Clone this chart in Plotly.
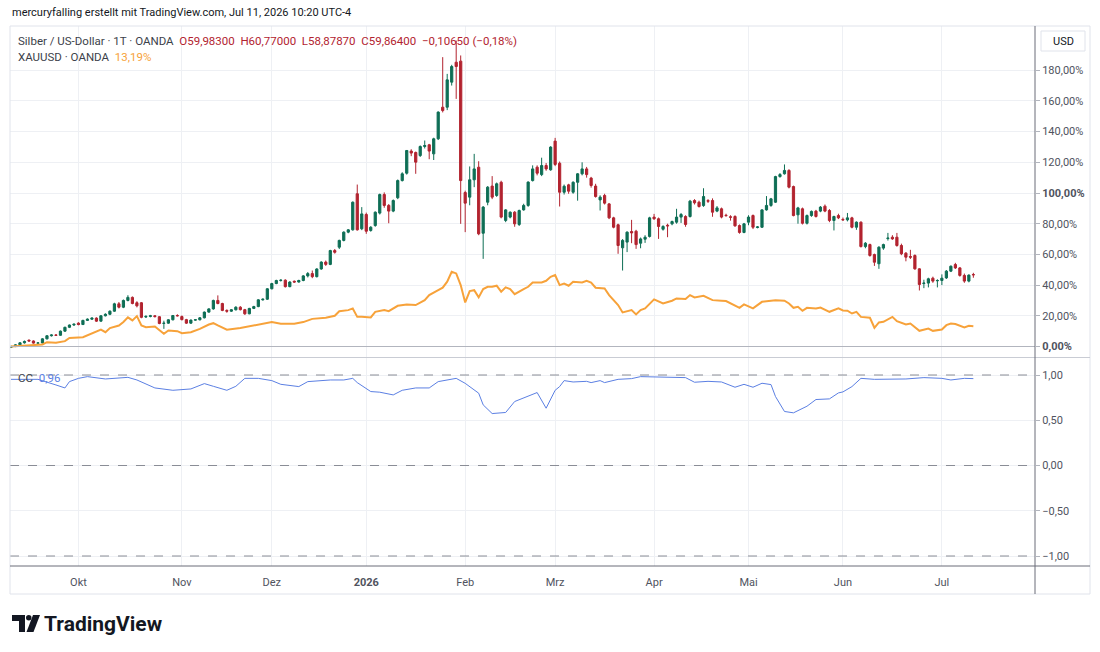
import plotly.graph_objects as go

# ---------------- data (percent scale) ----------------
month_labels = ["Okt", "Nov", "Dez", "<b>2026</b>", "Feb", "Mrz", "Apr", "Mai", "Jun", "Jul"]
month_start_bar = [15, 38, 58, 79, 101, 121, 143, 164, 185, 207]

silver_open = [
    -0.6, 0.0, 1.1, 2.4, 4.1, 3.6, 2.2, 2.3, 5.0, 7.0,
    7.5, 7.3, 10.0, 12.5, 14.0, 15.2, 14.3, 17.0, 17.8, 18.5,
    16.5, 20.0, 21.0, 23.0, 27.8, 25.6, 30.0, 32.0, 28.5, 28.5,
    19.2, 19.6, 20.0, 19.4, 15.0, 15.2, 17.4, 20.2, 19.5, 17.5,
    15.2, 17.2, 17.4, 18.7, 22.4, 24.5, 30.0, 28.0, 23.5, 23.0,
    23.9, 25.6, 24.0, 21.3, 24.8, 26.0, 30.4, 30.8, 37.6, 41.0,
    43.0, 43.2, 39.0, 42.5, 42.0, 43.0, 46.0, 47.5, 45.5, 50.5,
    55.0, 53.5, 62.5, 64.7, 69.1, 74.5, 76.0, 99.5, 76.7, 86.0,
    75.6, 78.8, 86.9, 99.0, 91.9, 88.2, 96.9, 108.1, 112.9, 127.3,
    126.4, 124.4, 130.3, 131.4, 125.5, 135.3, 155.9, 155.9, 172.2, 185.2,
    185.9, 100.3, 97.3, 108.6, 116.8, 73.8, 94.0, 104.5, 98.4, 107.0,
    82.1, 84.3, 87.5, 79.5, 89.0, 91.9, 108.1, 116.8, 112.0, 117.9,
    115.1, 133.8, 119.4, 100.5, 105.3, 100.5, 107.0, 112.5, 115.7, 109.7,
    104.5, 95.5, 98.4, 92.9, 83.8, 79.3, 64.3, 68.0, 74.9, 75.1,
    67.3, 69.9, 71.7, 84.3, 83.2, 76.4, 79.0, 79.9, 81.0, 84.3,
    84.7, 84.7, 95.1, 94.0, 91.8, 95.0, 95.1, 88.2, 89.7, 85.5,
    84.5, 84.7, 78.8, 74.3, 81.0, 85.3, 77.5, 77.7, 89.0, 91.9,
    94.0, 110.7, 112.5, 114.7, 104.2, 85.8, 89.7, 80.3, 85.3, 88.2,
    88.2, 91.4, 88.6, 82.1, 85.3, 82.8, 82.5, 83.8, 77.7, 81.0,
    65.1, 66.4, 59.9, 53.9, 64.1, 70.3, 71.2, 71.2, 65.8, 60.8,
    58.6, 59.3, 50.6, 41.0, 41.3, 44.5, 42.8, 43.0, 44.7, 49.1,
    53.4, 51.2, 46.3, 42.6, 46.9,
]
silver_high = [
    0.6, 1.5, 2.9, 3.9, 4.6, 4.0, 2.8, 5.4, 7.4, 7.9,
    8.0, 10.4, 12.9, 14.3, 15.0, 15.8, 17.4, 18.3, 18.9, 19.0,
    20.4, 21.6, 23.5, 28.5, 29.0, 30.6, 33.4, 32.6, 29.5, 29.0,
    20.3, 20.6, 20.5, 19.8, 16.8, 17.8, 20.5, 21.0, 20.2, 18.0,
    17.6, 17.9, 19.2, 22.8, 24.9, 30.5, 33.3, 28.5, 24.2, 24.4,
    26.2, 26.3, 24.5, 25.2, 26.5, 30.8, 31.3, 38.0, 41.5, 43.5,
    43.8, 43.8, 42.5, 43.0, 43.5, 46.5, 48.5, 49.5, 51.0, 55.5,
    56.0, 63.0, 63.5, 69.6, 75.0, 76.5, 94.5, 105.5, 90.8, 87.2,
    78.4, 88.0, 99.6, 100.4, 92.8, 95.8, 108.8, 113.5, 128.0, 128.5,
    127.0, 131.0, 134.2, 132.0, 136.0, 153.2, 188.5, 177.6, 183.5, 199.3,
    189.6, 101.5, 117.3, 125.5, 120.7, 91.5, 104.5, 111.0, 106.8, 108.0,
    89.5, 88.0, 88.2, 89.2, 93.0, 107.6, 118.0, 118.0, 123.0, 119.5,
    130.5, 135.9, 120.5, 105.5, 106.0, 107.6, 113.0, 120.0, 117.0, 110.5,
    106.0, 98.5, 99.5, 93.5, 84.5, 80.0, 70.0, 75.0, 82.5, 76.0,
    71.0, 72.5, 84.5, 86.4, 84.0, 79.0, 80.0, 82.0, 89.7, 87.0,
    85.5, 95.5, 96.0, 95.0, 103.1, 96.0, 96.5, 91.5, 90.5, 86.5,
    85.5, 85.5, 79.5, 80.5, 85.5, 86.0, 78.5, 89.5, 98.0, 96.8,
    111.2, 113.0, 118.6, 115.5, 104.8, 91.0, 90.5, 86.0, 88.6, 89.0,
    91.5, 92.5, 89.5, 85.2, 86.5, 84.0, 87.0, 84.5, 81.5, 81.5,
    68.0, 67.0, 60.5, 65.3, 67.0, 74.0, 72.5, 74.0, 67.0, 61.5,
    63.0, 60.0, 51.0, 43.5, 44.8, 45.5, 43.8, 47.0, 49.8, 52.8,
    54.5, 51.8, 47.5, 47.0, 48.0,
]
silver_low = [
    -1.0, -0.4, 0.6, 1.9, 3.2, 1.9, 1.6, 2.0, 4.6, 6.5,
    6.9, 7.0, 9.6, 12.0, 13.4, 13.8, 14.0, 16.6, 17.3, 16.0,
    16.2, 19.6, 20.4, 22.6, 24.8, 25.0, 29.4, 27.5, 25.5, 18.4,
    18.6, 19.0, 18.9, 14.5, 11.5, 14.8, 17.0, 19.6, 17.0, 14.7,
    14.8, 16.8, 17.0, 18.3, 22.0, 24.0, 27.5, 23.0, 22.0, 22.5,
    23.5, 23.5, 20.6, 21.0, 24.4, 25.6, 29.9, 30.4, 37.2, 40.6,
    42.3, 38.4, 38.6, 41.5, 41.6, 42.5, 45.0, 44.5, 45.0, 50.0,
    52.5, 53.0, 60.5, 63.5, 68.5, 73.8, 75.5, 75.5, 75.8, 73.4,
    74.8, 78.0, 86.0, 90.4, 80.3, 87.5, 96.0, 107.5, 112.0, 124.0,
    112.5, 123.5, 129.0, 122.0, 121.5, 134.5, 152.5, 154.0, 170.0, 161.3,
    79.9, 74.5, 92.0, 103.8, 72.5, 57.1, 92.0, 96.0, 97.5, 83.5,
    81.0, 83.5, 78.0, 78.5, 88.5, 91.0, 107.5, 111.5, 111.0, 114.5,
    114.5, 117.5, 91.2, 99.0, 99.5, 99.5, 95.0, 111.5, 110.0, 103.5,
    97.0, 88.6, 92.5, 83.0, 77.0, 60.4, 49.5, 61.5, 67.3, 63.6,
    64.0, 67.5, 71.0, 82.5, 70.1, 75.5, 71.2, 79.0, 80.0, 80.5,
    78.0, 84.0, 92.5, 90.5, 91.0, 93.5, 84.5, 87.5, 83.5, 84.5,
    82.0, 78.0, 73.5, 73.8, 79.0, 76.5, 77.0, 77.2, 88.5, 91.0,
    93.5, 110.0, 112.0, 103.0, 84.8, 80.0, 79.5, 79.5, 84.5, 84.0,
    87.5, 87.5, 81.0, 75.6, 83.0, 82.0, 81.5, 77.0, 76.0, 64.5,
    64.0, 58.5, 52.5, 50.6, 63.0, 69.0, 69.5, 65.0, 59.5, 55.5,
    57.0, 50.0, 36.5, 38.0, 38.5, 41.5, 38.5, 40.0, 44.0, 48.5,
    50.5, 45.5, 41.5, 41.8, 44.8,
]
silver_close = [
    0.0, 1.1, 2.4, 3.3, 3.6, 2.2, 2.3, 5.0, 7.0, 7.5,
    7.3, 10.0, 12.5, 14.0, 14.5, 14.3, 17.0, 17.8, 18.5, 16.5,
    20.0, 21.0, 23.0, 27.8, 25.6, 30.0, 32.0, 28.0, 26.5, 19.0,
    19.6, 20.0, 19.5, 15.0, 15.2, 17.4, 20.2, 20.0, 17.5, 15.2,
    17.2, 17.4, 18.7, 22.4, 24.5, 30.0, 28.0, 23.5, 23.0, 23.9,
    25.6, 24.0, 21.3, 24.8, 26.0, 30.4, 30.8, 37.6, 41.0, 43.0,
    43.2, 39.0, 42.0, 42.0, 43.0, 46.0, 47.5, 45.5, 50.5, 55.0,
    53.5, 62.5, 61.4, 69.1, 74.5, 76.0, 94.0, 76.0, 86.4, 75.1,
    77.7, 87.5, 99.0, 91.9, 88.2, 95.1, 108.1, 112.5, 127.7, 126.0,
    120.1, 130.3, 130.9, 127.3, 135.3, 152.7, 153.7, 173.7, 182.4, 182.4,
    108.1, 93.4, 108.6, 115.7, 73.4, 90.8, 103.8, 97.3, 106.0, 84.3,
    89.0, 87.5, 79.9, 88.6, 91.9, 107.1, 115.7, 112.9, 117.9, 115.7,
    129.9, 118.6, 100.5, 104.4, 101.2, 107.0, 112.5, 115.7, 112.0, 104.9,
    97.7, 97.3, 93.4, 83.8, 77.7, 65.8, 69.1, 74.5, 74.0, 66.4,
    70.1, 71.2, 83.8, 83.2, 78.2, 78.2, 78.6, 81.4, 84.3, 86.0,
    79.5, 94.7, 93.6, 91.2, 97.7, 94.7, 87.5, 90.3, 84.3, 85.3,
    84.2, 78.6, 74.3, 79.9, 84.3, 77.7, 77.9, 89.0, 91.9, 96.2,
    110.7, 112.0, 114.7, 103.8, 85.3, 90.3, 80.3, 85.3, 88.0, 84.7,
    90.8, 88.2, 82.1, 84.7, 83.8, 82.5, 83.8, 77.7, 81.0, 65.1,
    67.3, 59.3, 54.9, 64.7, 66.4, 70.6, 70.1, 65.8, 60.4, 58.2,
    58.2, 50.6, 40.4, 41.3, 44.1, 42.6, 43.0, 44.5, 49.1, 52.3,
    51.2, 46.3, 42.6, 46.5, 46.7,
]

gold_bar = [
    0, 5, 7, 8, 10, 12, 13, 16, 18, 20, 21, 22, 24, 25, 26, 27, 28, 29, 30, 32,
    34, 35, 37, 38, 40, 42, 44, 45, 46, 48, 51, 54, 56, 58, 60, 63, 65, 67, 70, 72,
    73, 75, 76, 77, 78, 80, 81, 83, 84, 86, 88, 90, 92, 93, 95, 96, 97, 98, 99, 100,
    101, 102, 103, 104, 105, 106, 107, 108, 109, 110, 111, 112, 114, 115, 116, 118, 119, 120, 121, 122,
    123, 124, 125, 127, 128, 129, 130, 132, 133, 135, 136, 138, 139, 140, 141, 143, 145, 147, 148, 150,
    151, 152, 154, 155, 156, 158, 159, 162, 163, 165, 167, 170, 172, 173, 174, 175, 176, 177, 179, 180,
    182, 184, 185, 186, 187, 188, 189, 191, 192, 193, 194, 196, 197, 199, 200, 202, 204, 205, 207, 208,
    209, 210, 212, 213, 214,
]
gold_pct = [
    0.0, 0.6, 1.3, 2.8, 2.4, 3.5, 5.6, 6.0, 8.3, 11.0, 9.3, 12.0, 13.7, 16.0, 19.0, 17.0, 19.8, 13.7, 12.6, 13.0,
    8.3, 10.4, 10.0, 8.7, 9.3, 11.5, 14.3, 15.2, 13.7, 11.0, 12.0, 13.7, 14.8, 15.9, 14.8, 14.8, 15.9, 18.0, 18.7, 20.0,
    23.0, 23.7, 24.8, 19.3, 19.3, 18.9, 22.6, 23.7, 23.0, 26.5, 27.4, 27.0, 30.2, 33.5, 36.7, 38.3, 42.2, 48.7, 47.6, 40.0,
    28.7, 36.1, 36.7, 32.0, 37.4, 38.9, 38.9, 39.6, 35.7, 38.5, 37.4, 34.1, 37.4, 38.9, 41.7, 41.7, 42.8, 45.4, 46.5, 40.0,
    41.0, 39.6, 42.2, 41.7, 42.8, 41.7, 38.3, 37.8, 33.5, 27.0, 22.2, 23.7, 20.9, 23.7, 24.8, 30.7, 28.0, 29.8, 31.3, 30.9,
    33.5, 32.0, 33.0, 31.7, 30.2, 29.8, 29.6, 25.2, 27.4, 24.8, 29.1, 30.2, 29.8, 28.0, 25.2, 25.9, 23.3, 25.2, 24.8, 25.4,
    22.6, 24.8, 23.5, 23.3, 21.5, 22.6, 19.3, 18.7, 12.2, 15.7, 16.1, 19.3, 16.5, 14.3, 15.0, 10.2, 11.7, 10.2, 11.1, 13.9,
    15.0, 14.6, 12.4, 13.5, 13.19,
]

cc_bar = [
    0, 6, 10, 12, 13, 15, 17, 21, 26, 28, 32, 36, 40, 43, 45, 48, 50, 52, 55, 58,
    60, 64, 66, 71, 74, 76, 77, 80, 82, 85, 87, 90, 93, 95, 99, 101, 104, 105, 107, 110,
    112, 117, 119, 121, 122, 123, 125, 128, 129, 131, 132, 135, 138, 140, 150, 152, 155, 158, 161, 163,
    165, 167, 169, 170, 172, 174, 177, 179, 182, 184, 185, 187, 189, 192, 199, 203, 207, 209, 212, 214,
]
cc_val = [
    0.952, 0.952, 0.89, 0.857, 0.927, 0.963, 0.982, 0.956, 0.974, 0.945, 0.857, 0.831, 0.846, 0.905, 0.875, 0.831, 0.875, 0.963, 0.963, 0.938,
    0.897, 0.872, 0.927, 0.945, 0.945, 0.963, 0.916, 0.817, 0.81, 0.78, 0.831, 0.857, 0.857, 0.927, 0.963, 0.908, 0.799, 0.67, 0.574, 0.586,
    0.707, 0.806, 0.633, 0.831, 0.872, 0.938, 0.923, 0.93, 0.916, 0.938, 0.916, 0.952, 0.96, 0.982, 0.971, 0.92, 0.93, 0.923, 0.865, 0.897,
    0.865, 0.909, 0.894, 0.762, 0.597, 0.582, 0.655, 0.729, 0.736, 0.802, 0.813, 0.872, 0.963, 0.952, 0.956, 0.971, 0.963, 0.945, 0.963, 0.96,
]

price_ticks = [0, 20, 40, 60, 80, 100, 120, 140, 160, 180]
price_ticktext = ["<b>0,00%</b>", "20,00%", "40,00%", "60,00%", "80,00%", "<b>100,00%</b>",
                  "120,00%", "140,00%", "160,00%", "180,00%"]
cc_ticks = [1.0, 0.5, 0.0, -0.5, -1.0]
cc_ticktext = ["1,00", "0,50", "0,00", "\u22120,50", "\u22121,00"]

# ---------------- styling / layout helpers ----------------
W, H = 1100, 652
PL, PR, PT, PB = 10, 1035, 26, 566          # plot area in pixels
FONT = "Roboto"
GREEN, RED = "#0e6e55", "#b2232f"
ORANGE, BLUE = "#f7a23a", "#5b7fe3"
GRID = "#eef0f4"
TXT = "#131722"
AX_TXT = "#50535e"


def px(x):
    return (x - PL) / (PR - PL)


def py(y):
    return (PB - y) / (PB - PT)


bars = list(range(len(silver_open)))

fig = go.Figure()
fig.add_trace(go.Candlestick(
    x=bars, open=silver_open, high=silver_high, low=silver_low, close=silver_close,
    xaxis="x", yaxis="y", whiskerwidth=0, showlegend=False, hoverinfo="skip",
    increasing=dict(line=dict(color=GREEN, width=1), fillcolor=GREEN),
    decreasing=dict(line=dict(color=RED, width=1), fillcolor=RED),
))
fig.add_trace(go.Scatter(
    x=gold_bar, y=gold_pct, mode="lines", xaxis="x", yaxis="y",
    line=dict(color=ORANGE, width=2), showlegend=False, hoverinfo="skip",
))
fig.add_trace(go.Scatter(
    x=cc_bar, y=cc_val, mode="lines", xaxis="x2", yaxis="y2",
    line=dict(color=BLUE, width=1), showlegend=False, hoverinfo="skip",
))

xr = [-0.22, (PR - 11) / 4.497]
price_top = (346.5 - PT) / 1.535
price_bot = (346.5 - 357) / 1.535
cc_top = (465.5 - 358) / 90.5
cc_bot = (465.5 - PB) / 90.5

axis_common = dict(showline=False, zeroline=False, fixedrange=True)

fig.update_layout(
    width=W, height=H,
    margin=dict(l=PL, r=W - PR, t=PT, b=H - PB, pad=0),
    paper_bgcolor="white", plot_bgcolor="white",
    font=dict(family=FONT, color=TXT, size=11),
    showlegend=False,
    xaxis=dict(domain=[0, 1], anchor="y", range=xr, tickvals=month_start_bar,
               showticklabels=False, showgrid=True, gridcolor=GRID, gridwidth=1,
               rangeslider=dict(visible=False), **axis_common),
    xaxis2=dict(domain=[0, 1], anchor="y2", range=xr, tickvals=month_start_bar,
                ticktext=month_labels, showticklabels=True, showgrid=True,
                gridcolor=GRID, gridwidth=1, ticks="outside", ticklen=6,
                tickcolor="rgba(0,0,0,0)", tickfont=dict(size=11, color=AX_TXT, family=FONT),
                **axis_common),
    yaxis=dict(domain=[(PB - 357) / (PB - PT), 1], anchor="x", side="right",
               range=[price_bot, price_top], tickvals=price_ticks, ticktext=price_ticktext,
               showgrid=True, gridcolor=GRID, ticks="outside", ticklen=4, tickcolor="#b2b5be",
               tickfont=dict(size=11, color=AX_TXT, family=FONT), **axis_common),
    yaxis2=dict(domain=[0, (PB - 358) / (PB - PT)], anchor="x2", side="right",
                range=[cc_bot, cc_top], tickvals=cc_ticks, ticktext=cc_ticktext,
                showgrid=True, gridcolor=GRID, ticks="outside", ticklen=4, tickcolor="#b2b5be",
                tickfont=dict(size=11, color=AX_TXT, family=FONT), **axis_common),
)

shapes = []
# baseline of percent scale
shapes.append(dict(type="line", xref="paper", yref="y", x0=0, x1=1, y0=0, y1=0,
                   line=dict(color="#b2b5be", width=1)))
# dashed levels in CC pane
for lv in [1.0, 0.0, -1.0]:
    shapes.append(dict(type="line", xref="paper", yref="y2", x0=0, x1=1, y0=lv, y1=lv,
                       line=dict(color="#8a8d96", width=1, dash="dash")))
# outer frame
shapes.append(dict(type="rect", xref="paper", yref="paper", x0=px(10), x1=px(1090),
                   y0=py(594), y1=py(26), line=dict(color="#e0e3eb", width=1)))
# pane separator
shapes.append(dict(type="line", xref="paper", yref="paper", x0=px(10), x1=px(1090),
                   y0=py(357.5), y1=py(357.5), line=dict(color="#c9ccd4", width=1)))
# time axis line and price axis line
shapes.append(dict(type="line", xref="paper", yref="paper", x0=px(10), x1=px(1090),
                   y0=0, y1=0, line=dict(color="#6a6d78", width=1)))
shapes.append(dict(type="line", xref="paper", yref="paper", x0=1, x1=1,
                   y0=py(594), y1=py(26), line=dict(color="#6a6d78", width=1)))
# USD box
shapes.append(dict(type="rect", xref="paper", yref="paper", x0=px(1041), x1=px(1085),
                   y0=py(51), y1=py(31), line=dict(color="#e0e3eb", width=1), fillcolor="white"))
# TradingView logo glyph
shapes.append(dict(type="path", xref="paper", yref="paper", fillcolor=TXT, line=dict(width=0),
                   path=f"M {px(12)} {py(615)} L {px(25)} {py(615)} L {px(25)} {py(632)} "
                        f"L {px(19)} {py(632)} L {px(19)} {py(621)} L {px(12)} {py(621)} Z"))
shapes.append(dict(type="circle", xref="paper", yref="paper", fillcolor=TXT, line=dict(width=0),
                   x0=px(26), x1=px(31.5), y0=py(620.5), y1=py(615)))
shapes.append(dict(type="path", xref="paper", yref="paper", fillcolor=TXT, line=dict(width=0),
                   path=f"M {px(33)} {py(615)} L {px(40)} {py(615)} L {px(33.5)} {py(632)} "
                        f"L {px(26.5)} {py(632)} Z"))
fig.update_layout(shapes=shapes)

ann = []
ann.append(dict(x=px(10), y=py(13), xref="paper", yref="paper", xanchor="left", yanchor="middle",
                showarrow=False, text="mercuryfalling erstellt mit TradingView.com, Jul 11, 2026 10:20 UTC-4",
                font=dict(size=11, color=TXT, family=FONT)))
ann.append(dict(x=px(16), y=py(41), xref="paper", yref="paper", xanchor="left", yanchor="middle",
                showarrow=False,
                text="Silber / US-Dollar · 1T · OANDA\u00a0\u00a0"
                     f"<span style='color:{RED}'>O59,98300\u00a0\u00a0H60,77000\u00a0\u00a0L58,87870\u00a0\u00a0"
                     "C59,86400\u00a0\u00a0\u22120,10650 (\u22120,18%)</span>",
                font=dict(size=11.5, color="#3c3f4a", family=FONT)))
ann.append(dict(x=px(16), y=py(57), xref="paper", yref="paper", xanchor="left", yanchor="middle",
                showarrow=False,
                text=f"XAUUSD · OANDA\u00a0\u00a0<span style='color:{ORANGE}'>13,19%</span>",
                font=dict(size=11.5, color="#3c3f4a", family=FONT)))
ann.append(dict(x=px(16), y=py(378), xref="paper", yref="paper", xanchor="left", yanchor="middle",
                showarrow=False,
                text=f"CC\u00a0\u00a0<span style='color:{BLUE}'>0,96</span>",
                font=dict(size=11.5, color="#3c3f4a", family=FONT)))
ann.append(dict(x=px(1063), y=py(41), xref="paper", yref="paper", xanchor="center", yanchor="middle",
                showarrow=False, text="USD", font=dict(size=11, color=TXT, family=FONT)))
ann.append(dict(x=px(42), y=py(623.5), xref="paper", yref="paper", xanchor="left", yanchor="middle",
                showarrow=False, text="<b>TradingView</b>", font=dict(size=21, color=TXT, family=FONT)))
fig.update_layout(annotations=ann)

fig.write_html("out.html", config={"displayModeBar": False, "staticPlot": True})
